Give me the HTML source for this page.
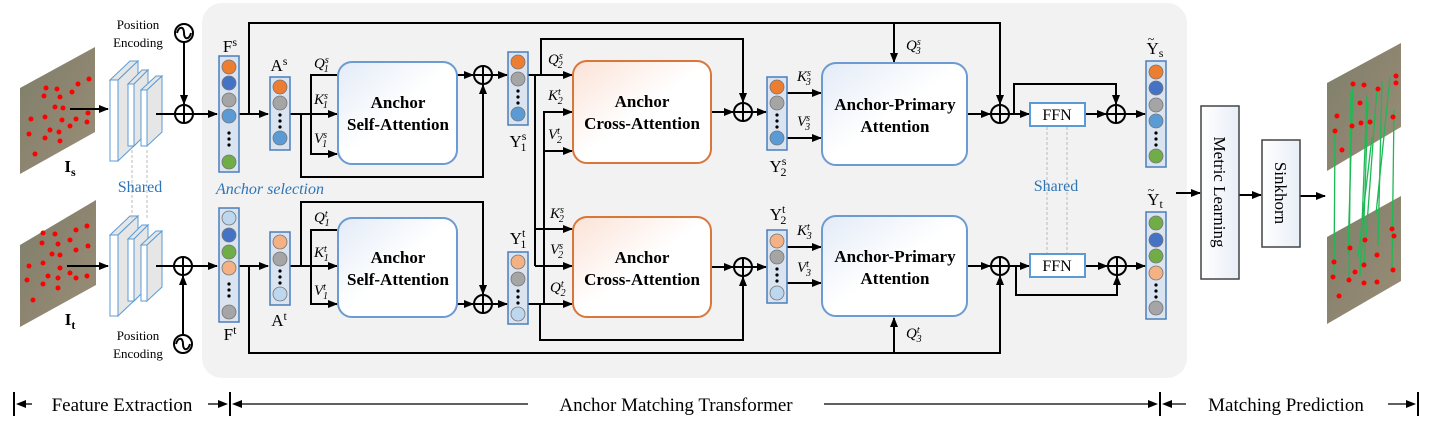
<!DOCTYPE html>
<html><head><meta charset="utf-8"><style>
body{margin:0;background:#fff}
svg{display:block;font-family:"Liberation Serif",serif}
.b{font-weight:bold;font-size:17px}
.l{stroke:#000;stroke-width:2;fill:none}
.q{font-style:italic;font-size:15px}
</style></head><body>
<svg width="1436" height="432" viewBox="0 0 1436 432">
<defs>
<marker id="a" markerWidth="10" markerHeight="8" refX="9" refY="4" orient="auto" markerUnits="userSpaceOnUse"><path d="M0,0L10,4L0,8z" fill="#000"/></marker>
<linearGradient id="gb" x1="0" y1="0" x2="1" y2="1"><stop offset="0" stop-color="#e3ebf7"/><stop offset=".5" stop-color="#fff"/></linearGradient>
<linearGradient id="go" x1="0" y1="0" x2="1" y2="1"><stop offset="0" stop-color="#fbe2d6"/><stop offset=".5" stop-color="#fff"/></linearGradient>
<linearGradient id="gi" x1="0" y1="0" x2="1" y2="1"><stop offset="0" stop-color="#7c7f6a"/><stop offset=".5" stop-color="#8d8570"/><stop offset="1" stop-color="#9a8f78"/></linearGradient>
<linearGradient id="gw" x1="0" y1="0" x2="1" y2="0"><stop offset="0" stop-color="#fff"/><stop offset="1" stop-color="#e8eef7"/></linearGradient>
<g id="p"><circle cx="0" cy="0" r="9" fill="none"/><path d="M-9,0H9M0,-9V9"/></g>
</defs>
<rect x="202" y="3" width="985" height="375" rx="20" fill="#f2f2f2"/>

<polygon points="20,88 95,47 95,132 20,174" fill="url(#gi)"/>
<polygon points="20,245 96,200 96,285 20,327" fill="url(#gi)"/>
<g fill="#f00">
<circle cx="46" cy="88" r="2.5"/><circle cx="57" cy="89" r="2.5"/><circle cx="78" cy="84" r="2.5"/><circle cx="89" cy="79" r="2.5"/><circle cx="44" cy="96" r="2.5"/><circle cx="60" cy="97" r="2.5"/><circle cx="72" cy="92" r="2.5"/><circle cx="55" cy="107" r="2.5"/><circle cx="63" cy="108" r="2.5"/><circle cx="31" cy="119" r="2.5"/><circle cx="45" cy="117" r="2.5"/><circle cx="62" cy="120" r="2.5"/><circle cx="76" cy="119" r="2.5"/><circle cx="88" cy="113" r="2.5"/><circle cx="50" cy="130" r="2.5"/><circle cx="59" cy="132" r="2.5"/><circle cx="70" cy="126" r="2.5"/><circle cx="29" cy="134" r="2.5"/><circle cx="45" cy="138" r="2.5"/><circle cx="60" cy="141" r="2.5"/><circle cx="35" cy="154" r="2.5"/><circle cx="87" cy="122" r="2.5"/>
<circle cx="43" cy="233" r="2.5"/><circle cx="55" cy="234" r="2.5"/><circle cx="76" cy="230" r="2.5"/><circle cx="87" cy="226" r="2.5"/><circle cx="42" cy="243" r="2.5"/><circle cx="58" cy="244" r="2.5"/><circle cx="70" cy="240" r="2.5"/><circle cx="52" cy="254" r="2.5"/><circle cx="60" cy="255" r="2.5"/><circle cx="29" cy="266" r="2.5"/><circle cx="43" cy="263" r="2.5"/><circle cx="60" cy="268" r="2.5"/><circle cx="76" cy="250" r="2.5"/><circle cx="88" cy="246" r="2.5"/><circle cx="48" cy="276" r="2.5"/><circle cx="58" cy="278" r="2.5"/><circle cx="70" cy="273" r="2.5"/><circle cx="27" cy="280" r="2.5"/><circle cx="43" cy="284" r="2.5"/><circle cx="58" cy="288" r="2.5"/><circle cx="33" cy="300" r="2.5"/><circle cx="87" cy="276" r="2.5"/><circle cx="76" cy="278" r="2.5"/>
</g>
<text x="70" y="172" font-size="17" font-weight="bold" text-anchor="middle">I<tspan font-size="12" dy="4">s</tspan></text>
<text x="70" y="325" font-size="17" font-weight="bold" text-anchor="middle">I<tspan font-size="12" dy="4">t</tspan></text>

<g stroke="#5b9bd5" stroke-width="1" fill="#e6e6e6">
<polygon points="110,80 130,61 138,61 118,80"/><polygon points="118,80 138,61 138,142 118,161"/><rect x="110" y="80" width="8" height="81" fill="#fff"/>
<polygon points="128,84 142,70 148,70 134,84"/><polygon points="134,84 148,70 148,132 134,146"/><rect x="128" y="84" width="6" height="62" fill="#fff"/>
<polygon points="141,90 156,76 162,76 147,90"/><polygon points="147,90 162,76 162,132 147,146"/><rect x="141" y="90" width="6" height="56" fill="#fff"/>
<polygon points="110,235 130,216 138,216 118,235"/><polygon points="118,235 138,216 138,297 118,316"/><rect x="110" y="235" width="8" height="81" fill="#fff"/>
<polygon points="128,239 142,225 148,225 134,239"/><polygon points="134,239 148,225 148,287 134,301"/><rect x="128" y="239" width="6" height="62" fill="#fff"/>
<polygon points="141,245 156,231 162,231 147,245"/><polygon points="147,245 162,231 162,287 147,301"/><rect x="141" y="245" width="6" height="56" fill="#fff"/>
</g>
<g stroke="#bbb" stroke-dasharray="3,2"><line x1="132" y1="150" x2="132" y2="218"/><line x1="147" y1="150" x2="147" y2="218"/><line x1="1047" y1="127" x2="1047" y2="253"/><line x1="1067" y1="127" x2="1067" y2="253"/></g>
<text x="140" y="192" font-size="16" fill="#2e75b6" text-anchor="middle">Shared</text>
<text x="1056" y="191" font-size="16" fill="#2e75b6" text-anchor="middle">Shared</text>
<text x="270" y="194" font-size="16" fill="#2e75b6" font-style="italic" text-anchor="middle">Anchor selection</text>

<text x="138" y="29" font-size="13" text-anchor="middle">Position</text>
<text x="138" y="47" font-size="13" text-anchor="middle">Encoding</text>
<text x="138" y="340" font-size="13" text-anchor="middle">Position</text>
<text x="138" y="358" font-size="13" text-anchor="middle">Encoding</text>
<g class="l"><circle cx="184" cy="33" r="9"/><path d="M177,33c2,-7 7,-7 7,0s5,7 7,0"/>
<circle cx="183" cy="344" r="9"/><path d="M176,344c2,-7 7,-7 7,0s5,7 7,0"/></g>

<g class="l">
<line x1="70" y1="109" x2="108" y2="109" marker-end="url(#a)"/>
<line x1="67" y1="266" x2="108" y2="266" marker-end="url(#a)"/>
<line x1="156" y1="114" x2="175" y2="114"/><line x1="193" y1="114" x2="217" y2="114" marker-end="url(#a)"/>
<line x1="184" y1="42" x2="184" y2="104" marker-end="url(#a)"/>
<line x1="156" y1="266" x2="174" y2="266"/><line x1="192" y1="266" x2="217" y2="266" marker-end="url(#a)"/>
<line x1="183" y1="335" x2="183" y2="276" marker-end="url(#a)"/>
<line x1="239" y1="114" x2="268" y2="114" marker-end="url(#a)"/>
<line x1="239" y1="266" x2="268" y2="266" marker-end="url(#a)"/>
<polyline points="249,114 249,23 1000,23 1000,104" marker-end="url(#a)"/>
<line x1="894" y1="23" x2="894" y2="62" marker-end="url(#a)"/>
<polyline points="249,266 249,353 1000,353 1000,276" marker-end="url(#a)"/>
<line x1="894" y1="353" x2="894" y2="318" marker-end="url(#a)"/>
<line x1="290" y1="114" x2="337" y2="114" marker-end="url(#a)"/>
<polyline points="337,75 311,75 311,154 337,154" marker-end="url(#a)"/>
<polyline points="301,114 301,177 483,177 483,85" marker-end="url(#a)"/>
<line x1="457" y1="75" x2="473" y2="75" marker-end="url(#a)"/>
<line x1="492" y1="75" x2="507" y2="75" marker-end="url(#a)"/>
<line x1="290" y1="266" x2="337" y2="266" marker-end="url(#a)"/>
<polyline points="337,230 311,230 311,304 337,304" marker-end="url(#a)"/>
<polyline points="301,266 301,202 483,202 483,294" marker-end="url(#a)"/>
<line x1="457" y1="304" x2="473" y2="304" marker-end="url(#a)"/>
<line x1="492" y1="304" x2="507" y2="304" marker-end="url(#a)"/>
<line x1="528" y1="75" x2="572" y2="75" marker-end="url(#a)"/>
<polyline points="541,75 541,39 743,39 743,102" marker-end="url(#a)"/>
<polyline points="535,75 535,229 572,229" marker-end="url(#a)"/>
<line x1="535" y1="266" x2="572" y2="266" marker-end="url(#a)"/>
<line x1="535" y1="229" x2="535" y2="266"/>
<line x1="528" y1="304" x2="572" y2="304" marker-end="url(#a)"/>
<polyline points="544,304 544,112 572,112" marker-end="url(#a)"/>
<line x1="544" y1="151" x2="572" y2="151" marker-end="url(#a)"/>
<polyline points="540,304 540,340 743,340 743,277" marker-end="url(#a)"/>
<line x1="711" y1="112" x2="733" y2="112" marker-end="url(#a)"/>
<line x1="752" y1="112" x2="766" y2="112" marker-end="url(#a)"/>
<line x1="711" y1="267" x2="733" y2="267" marker-end="url(#a)"/>
<line x1="752" y1="267" x2="766" y2="267" marker-end="url(#a)"/>
<line x1="787" y1="93" x2="821" y2="93" marker-end="url(#a)"/>
<line x1="787" y1="138" x2="821" y2="138" marker-end="url(#a)"/>
<line x1="787" y1="247" x2="821" y2="247" marker-end="url(#a)"/>
<line x1="787" y1="283" x2="821" y2="283" marker-end="url(#a)"/>
<line x1="967" y1="114" x2="990" y2="114" marker-end="url(#a)"/>
<line x1="967" y1="266" x2="990" y2="266" marker-end="url(#a)"/>
<line x1="1009" y1="114" x2="1029" y2="114" marker-end="url(#a)"/>
<line x1="1009" y1="266" x2="1029" y2="266" marker-end="url(#a)"/>
<polyline points="1014,114 1014,84 1116,84 1116,104" marker-end="url(#a)"/>
<polyline points="1016,266 1016,295 1117,295 1117,276" marker-end="url(#a)"/>
<line x1="1085" y1="114" x2="1106" y2="114" marker-end="url(#a)"/>
<line x1="1085" y1="266" x2="1107" y2="266" marker-end="url(#a)"/>
<line x1="1125" y1="114" x2="1145" y2="114" marker-end="url(#a)"/>
<line x1="1126" y1="266" x2="1145" y2="266" marker-end="url(#a)"/>
<line x1="1176" y1="193" x2="1200" y2="193" marker-end="url(#a)"/>
<line x1="1239" y1="195" x2="1261" y2="195" marker-end="url(#a)"/>
<line x1="1300" y1="196" x2="1325" y2="196" marker-end="url(#a)"/>
</g>
<g class="l">
<use href="#p" x="184" y="114"/><use href="#p" x="183" y="266"/><use href="#p" x="483" y="75"/><use href="#p" x="483" y="304"/><use href="#p" x="743" y="112"/><use href="#p" x="743" y="267"/><use href="#p" x="1000" y="114"/><use href="#p" x="1000" y="266"/><use href="#p" x="1116" y="114"/><use href="#p" x="1117" y="266"/>
</g>

<g stroke-width="2">
<rect x="338" y="62" width="119" height="102" rx="14" fill="url(#gb)" stroke="#6b9bd2"/>
<rect x="338" y="218" width="119" height="99" rx="14" fill="url(#gb)" stroke="#6b9bd2"/>
<rect x="573" y="61" width="138" height="102" rx="14" fill="url(#go)" stroke="#d9773a"/>
<rect x="573" y="217" width="138" height="100" rx="14" fill="url(#go)" stroke="#d9773a"/>
<rect x="822" y="63" width="145" height="102" rx="14" fill="url(#gb)" stroke="#6b9bd2"/>
<rect x="822" y="216" width="145" height="100" rx="14" fill="url(#gb)" stroke="#6b9bd2"/>
<rect x="1030" y="103" width="55" height="23" fill="#fff" stroke="#5b9bd5"/>
<rect x="1030" y="254" width="55" height="23" fill="#fff" stroke="#5b9bd5"/>
</g>
<g class="b" text-anchor="middle">
<text x="398" y="108">Anchor</text><text x="398" y="130">Self-Attention</text>
<text x="398" y="263">Anchor</text><text x="398" y="285">Self-Attention</text>
<text x="642" y="107">Anchor</text><text x="642" y="129">Cross-Attention</text>
<text x="642" y="263">Anchor</text><text x="642" y="285">Cross-Attention</text>
<text x="895" y="110">Anchor-Primary</text><text x="895" y="132">Attention</text>
<text x="895" y="262">Anchor-Primary</text><text x="895" y="284">Attention</text>
</g>
<text x="1057" y="120" font-size="16" text-anchor="middle">FFN</text>
<text x="1057" y="271" font-size="16" text-anchor="middle">FFN</text>

<g stroke="#4a7ebb" stroke-width="1.5" fill="#dae3f0">
<rect x="219" y="56" width="20" height="116"/><rect x="219" y="208" width="20" height="114"/>
<rect x="270" y="77" width="20" height="73"/><rect x="270" y="232" width="20" height="73"/>
<rect x="508" y="52" width="20" height="73"/><rect x="508" y="252" width="20" height="72"/>
<rect x="767" y="77" width="20" height="73"/><rect x="767" y="230" width="20" height="73"/>
<rect x="1146" y="61" width="20" height="106"/><rect x="1146" y="212" width="20" height="107"/>
</g>
<g stroke="#777" stroke-width="0.8">
<circle cx="229" cy="67" r="7" fill="#ed7d31"/><circle cx="229" cy="83" r="7" fill="#4472c4"/><circle cx="229" cy="100" r="7" fill="#a5a5a5"/><circle cx="229" cy="116" r="7" fill="#5b9bd5"/><circle cx="229" cy="162" r="7" fill="#70ad47"/>
<circle cx="229" cy="218" r="7" fill="#bdd7ee"/><circle cx="229" cy="235" r="7" fill="#4472c4"/><circle cx="229" cy="252" r="7" fill="#70ad47"/><circle cx="229" cy="268" r="7" fill="#f4b183"/><circle cx="229" cy="312" r="7" fill="#a5a5a5"/>
<circle cx="280" cy="87" r="7" fill="#ed7d31"/><circle cx="280" cy="103" r="7" fill="#a5a5a5"/><circle cx="280" cy="138" r="7" fill="#5b9bd5"/>
<circle cx="280" cy="242" r="7" fill="#f4b183"/><circle cx="280" cy="259" r="7" fill="#a5a5a5"/><circle cx="280" cy="294" r="7" fill="#bdd7ee"/>
<circle cx="518" cy="62" r="7" fill="#ed7d31"/><circle cx="518" cy="79" r="7" fill="#a5a5a5"/><circle cx="518" cy="114" r="7" fill="#5b9bd5"/>
<circle cx="518" cy="262" r="7" fill="#f4b183"/><circle cx="518" cy="279" r="7" fill="#a5a5a5"/><circle cx="518" cy="314" r="7" fill="#bdd7ee"/>
<circle cx="777" cy="87" r="7" fill="#ed7d31"/><circle cx="777" cy="103" r="7" fill="#a5a5a5"/><circle cx="777" cy="138" r="7" fill="#5b9bd5"/>
<circle cx="777" cy="241" r="7" fill="#f4b183"/><circle cx="777" cy="257" r="7" fill="#a5a5a5"/><circle cx="777" cy="293" r="7" fill="#bdd7ee"/>
<circle cx="1156" cy="72" r="7" fill="#ed7d31"/><circle cx="1156" cy="88" r="7" fill="#4472c4"/><circle cx="1156" cy="105" r="7" fill="#a5a5a5"/><circle cx="1156" cy="121" r="7" fill="#5b9bd5"/><circle cx="1156" cy="156" r="7" fill="#70ad47"/>
<circle cx="1156" cy="223" r="7" fill="#70ad47"/><circle cx="1156" cy="240" r="7" fill="#4472c4"/><circle cx="1156" cy="256" r="7" fill="#70ad47"/><circle cx="1156" cy="273" r="7" fill="#f4b183"/><circle cx="1156" cy="308" r="7" fill="#a5a5a5"/>
</g>
<g fill="#000">
<circle cx="229" cy="133" r="1.6"/><circle cx="229" cy="139" r="1.6"/><circle cx="229" cy="145" r="1.6"/>
<circle cx="229" cy="284" r="1.6"/><circle cx="229" cy="290" r="1.6"/><circle cx="229" cy="296" r="1.6"/>
<circle cx="280" cy="115" r="1.6"/><circle cx="280" cy="121" r="1.6"/><circle cx="280" cy="127" r="1.6"/>
<circle cx="280" cy="271" r="1.6"/><circle cx="280" cy="277" r="1.6"/><circle cx="280" cy="283" r="1.6"/>
<circle cx="518" cy="91" r="1.6"/><circle cx="518" cy="97" r="1.6"/><circle cx="518" cy="103" r="1.6"/>
<circle cx="518" cy="291" r="1.6"/><circle cx="518" cy="297" r="1.6"/><circle cx="518" cy="303" r="1.6"/>
<circle cx="777" cy="115" r="1.6"/><circle cx="777" cy="121" r="1.6"/><circle cx="777" cy="127" r="1.6"/>
<circle cx="777" cy="269" r="1.6"/><circle cx="777" cy="275" r="1.6"/><circle cx="777" cy="281" r="1.6"/>
<circle cx="1156" cy="133" r="1.6"/><circle cx="1156" cy="139" r="1.6"/><circle cx="1156" cy="145" r="1.6"/>
<circle cx="1156" cy="285" r="1.6"/><circle cx="1156" cy="291" r="1.6"/><circle cx="1156" cy="297" r="1.6"/>
</g>
<g font-size="17" text-anchor="middle">
<text x="230" y="52">F<tspan font-size="12" dy="-6">s</tspan></text>
<text x="230" y="340">F<tspan font-size="12" dy="-6">t</tspan></text>
<text x="279" y="71">A<tspan font-size="12" dy="-6">s</tspan></text>
<text x="279" y="326">A<tspan font-size="12" dy="-6">t</tspan></text>
<text x="518" y="147">Y<tspan font-size="12" dy="-7">s</tspan><tspan font-size="12" dx="-6" dy="11">1</tspan></text>
<text x="518" y="244">Y<tspan font-size="12" dy="-7">t</tspan><tspan font-size="12" dx="-5" dy="11">1</tspan></text>
<text x="778" y="172">Y<tspan font-size="12" dy="-7">s</tspan><tspan font-size="12" dx="-6" dy="11">2</tspan></text>
<text x="778" y="220">Y<tspan font-size="12" dy="-7">t</tspan><tspan font-size="12" dx="-5" dy="11">2</tspan></text>
<text x="1155" y="54">Y<tspan font-size="12" dy="3">s</tspan></text><text x="1151" y="43" font-size="12">~</text>
<text x="1155" y="205">Y<tspan font-size="12" dy="3">t</tspan></text><text x="1151" y="194" font-size="12">~</text>
</g>
<g class="q">
<text x="314" y="68">Q<tspan font-size="10" dy="-5">s</tspan><tspan font-size="10" dx="-5" dy="9">1</tspan></text>
<text x="314" y="104">K<tspan font-size="10" dy="-5">s</tspan><tspan font-size="10" dx="-5" dy="9">1</tspan></text>
<text x="314" y="143">V<tspan font-size="10" dy="-5">s</tspan><tspan font-size="10" dx="-5" dy="9">1</tspan></text>
<text x="314" y="222">Q<tspan font-size="10" dy="-5">t</tspan><tspan font-size="10" dx="-3" dy="9">1</tspan></text>
<text x="314" y="257">K<tspan font-size="10" dy="-5">t</tspan><tspan font-size="10" dx="-3" dy="9">1</tspan></text>
<text x="314" y="295">V<tspan font-size="10" dy="-5">t</tspan><tspan font-size="10" dx="-3" dy="9">1</tspan></text>
<text x="548" y="64">Q<tspan font-size="10" dy="-5">s</tspan><tspan font-size="10" dx="-5" dy="9">2</tspan></text>
<text x="548" y="100">K<tspan font-size="10" dy="-5">t</tspan><tspan font-size="10" dx="-3" dy="9">2</tspan></text>
<text x="548" y="139">V<tspan font-size="10" dy="-5">t</tspan><tspan font-size="10" dx="-3" dy="9">2</tspan></text>
<text x="550" y="218">K<tspan font-size="10" dy="-5">s</tspan><tspan font-size="10" dx="-5" dy="9">2</tspan></text>
<text x="550" y="254">V<tspan font-size="10" dy="-5">s</tspan><tspan font-size="10" dx="-5" dy="9">2</tspan></text>
<text x="550" y="292">Q<tspan font-size="10" dy="-5">t</tspan><tspan font-size="10" dx="-3" dy="9">2</tspan></text>
<text x="797" y="81">K<tspan font-size="10" dy="-5">s</tspan><tspan font-size="10" dx="-5" dy="9">3</tspan></text>
<text x="797" y="126">V<tspan font-size="10" dy="-5">s</tspan><tspan font-size="10" dx="-5" dy="9">3</tspan></text>
<text x="797" y="235">K<tspan font-size="10" dy="-5">t</tspan><tspan font-size="10" dx="-3" dy="9">3</tspan></text>
<text x="797" y="272">V<tspan font-size="10" dy="-5">t</tspan><tspan font-size="10" dx="-3" dy="9">3</tspan></text>
<text x="906" y="50">Q<tspan font-size="10" dy="-5">s</tspan><tspan font-size="10" dx="-5" dy="9">3</tspan></text>
<text x="906" y="338">Q<tspan font-size="10" dy="-5">t</tspan><tspan font-size="10" dx="-3" dy="9">3</tspan></text>
</g>

<rect x="1201" y="106" width="38" height="173" fill="url(#gw)" stroke="#444" stroke-width="1.5"/>
<rect x="1262" y="140" width="38" height="107" fill="url(#gw)" stroke="#444" stroke-width="1.5"/>
<text transform="translate(1214,192) rotate(90)" font-size="17" text-anchor="middle">Metric Learning</text>
<text transform="translate(1275,193) rotate(90)" font-size="17" text-anchor="middle">Sinkhorn</text>
<polygon points="1327,83 1401,43 1401,127 1327,171" fill="url(#gi)"/>
<polygon points="1327,237 1401,196 1401,281 1327,324" fill="url(#gi)"/>
<g stroke="#1db954" stroke-width="1.3">
<line x1="1335" y1="131" x2="1334" y2="277"/><line x1="1351" y1="92" x2="1349" y2="280"/><line x1="1353" y1="84" x2="1348" y2="254"/><line x1="1367" y1="95" x2="1360" y2="276"/><line x1="1368" y1="102" x2="1363" y2="249"/><line x1="1382" y1="81" x2="1378" y2="246"/><line x1="1377" y1="88" x2="1364" y2="265"/><line x1="1394" y1="110" x2="1392" y2="269"/><line x1="1372" y1="137" x2="1358" y2="257"/><line x1="1390" y1="77" x2="1376" y2="214"/>
</g>
<g fill="#f00">
<circle cx="1337" cy="116" r="2.5"/><circle cx="1353" cy="84" r="2.5"/><circle cx="1364" cy="85" r="2.5"/><circle cx="1378" cy="89" r="2.5"/><circle cx="1396" cy="83" r="2.5"/><circle cx="1396" cy="76" r="2.5"/><circle cx="1360" cy="103" r="2.5"/><circle cx="1352" cy="126" r="2.5"/><circle cx="1361" cy="123" r="2.5"/><circle cx="1393" cy="117" r="2.5"/><circle cx="1342" cy="150" r="2.5"/><circle cx="1335" cy="131" r="2.5"/><circle cx="1370" cy="122" r="2.5"/>
<circle cx="1334" cy="262" r="2.5"/><circle cx="1333" cy="277" r="2.5"/><circle cx="1349" cy="280" r="2.5"/><circle cx="1355" cy="272" r="2.5"/><circle cx="1364" cy="265" r="2.5"/><circle cx="1377" cy="255" r="2.5"/><circle cx="1393" cy="270" r="2.5"/><circle cx="1394" cy="236" r="2.5"/><circle cx="1392" cy="229" r="2.5"/><circle cx="1365" cy="240" r="2.5"/><circle cx="1350" cy="248" r="2.5"/><circle cx="1339" cy="296" r="2.5"/><circle cx="1377" cy="282" r="2.5"/><circle cx="1364" cy="283" r="2.5"/>
</g>

<g stroke="#000" stroke-width="2">
<line x1="14" y1="392" x2="14" y2="416"/><line x1="230" y1="392" x2="230" y2="416"/><line x1="1160" y1="392" x2="1160" y2="416"/><line x1="1418" y1="392" x2="1418" y2="416"/>
</g>
<g stroke="#000" stroke-width="1.3">
<line x1="20" y1="404" x2="32" y2="404"/><line x1="208" y1="404" x2="222" y2="404"/>
<line x1="238" y1="404" x2="528" y2="404"/><line x1="824" y1="404" x2="1152" y2="404"/>
<line x1="1168" y1="404" x2="1186" y2="404"/><line x1="1388" y1="404" x2="1410" y2="404"/>
</g>
<g fill="#000">
<polygon points="16,404 26,400 26,408"/><polygon points="228,404 218,400 218,408"/>
<polygon points="232,404 242,400 242,408"/><polygon points="1158,404 1148,400 1148,408"/>
<polygon points="1162,404 1172,400 1172,408"/><polygon points="1416,404 1406,400 1406,408"/>
</g>
<text x="122" y="411" font-size="19" text-anchor="middle">Feature Extraction</text>
<text x="676" y="411" font-size="19" text-anchor="middle">Anchor Matching Transformer</text>
<text x="1286" y="411" font-size="19" text-anchor="middle">Matching Prediction</text>
</svg>
</body></html>
